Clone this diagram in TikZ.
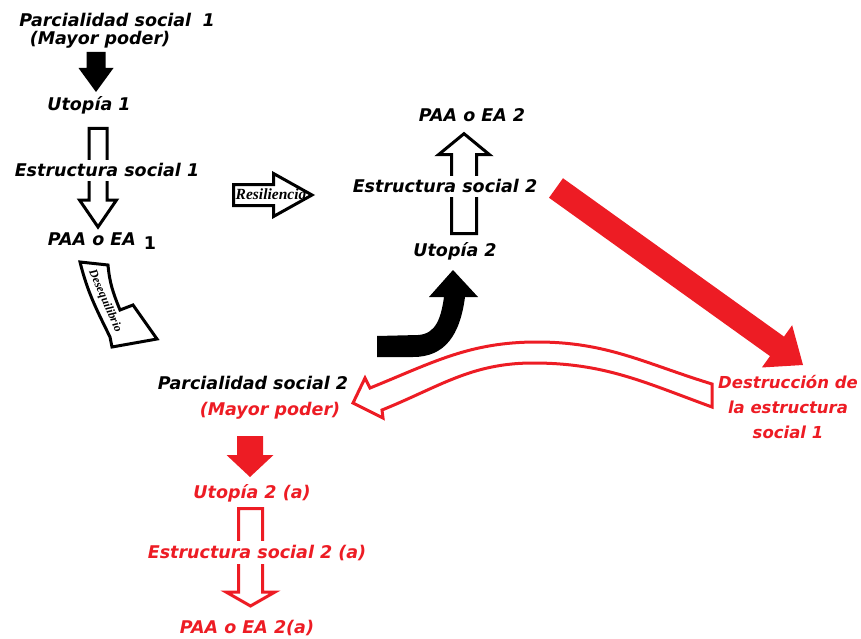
\documentclass[tikz,border=0pt]{standalone}
\usepackage{fontspec}
\setmainfont{DejaVu Sans}
\newfontfamily\serifbi{Liberation Serif}
\usepackage{tikz}
\usetikzlibrary{calc,backgrounds}
\definecolor{pintred}{RGB}{237,28,36}
\tikzstyle{lbl} = [font=\fontsize{17.5}{21}\selectfont\bfseries\itshape, inner sep=1pt, anchor=base]
\tikzstyle{lblred} = [lbl, text=pintred]
\tikzstyle{cover} = [fill=white, inner sep=4pt]
\tikzstyle{hollow} = [line width=3pt, draw=black, line join=miter]
\tikzstyle{filledarrow} = [fill=black]
% block arrow: [style]{from}{to}{shaft half width}{head half width}{head length}
\newcommand{\blockarrow}[6][]{%
  \coordinate (fa-a) at (#2);
  \coordinate (fa-b) at (#3);
  \coordinate (fa-h) at ($(fa-b)!#6!(fa-a)$);
  \path[#1] ($(fa-a)!#4!90:(fa-b)$) -- ($(fa-h)!#4!90:(fa-b)$) -- ($(fa-h)!#5!90:(fa-b)$)
    -- (fa-b) -- ($(fa-h)!#5!-90:(fa-b)$) -- ($(fa-h)!#4!-90:(fa-b)$) -- ($(fa-a)!#4!-90:(fa-b)$) -- cycle;
}

\begin{document}
\begin{tikzpicture}[x=1pt,y=-1pt]
\useasboundingbox (0,0) rectangle (861,639);

% first chain
\node[lbl] (ps1) at (117,27) {Parcialidad social\hspace{0.3em} 1};
\node[lbl] (mp1) at (100,45) {(Mayor poder)};
\node[lbl] (u1) at (89,111) {Utopía 1};
\node[lbl, cover] (es1) at (107,177) {Estructura social 1};
\node[lbl] (paa1) at (102,245) {PAA o EA\hspace{0.45em}\raisebox{-4pt}{\upshape 1}};

% second chain
\node[lbl] (paa2) at (472,122) {PAA o EA 2};
\node[lbl, cover] (es2) at (445,193) {Estructura social 2};
\node[lbl] (u2) at (455,256) {Utopía 2};

% third chain
\node[lbl] (ps2) at (253,389) {Parcialidad social 2};
\node[lblred] (mp2) at (270,415) {(Mayor poder)};
\node[lblred] (u2a) at (252,498) {Utopía 2 (a)};
\node[lblred, cover] (es2a) at (257,558) {Estructura social 2 (a)};
\node[lblred] (paa2a) at (247,633) {PAA o EA 2(a)};

\node[lblred, anchor=north, align=center, font=\fontsize{16.5}{25}\selectfont\bfseries\itshape]
  (destr) at (788,374) {Destrucción de\\la estructura\\social 1};

\begin{scope}[on background layer]
% Desequilibrio
\draw[hollow] (80,262) -- (108,265) to[out=-85,in=112] (120,310) -- (133,305) -- (157,339)
  -- (112,347) -- (110,337) to[out=116,in=-76] cycle;
% Resiliencia
\blockarrow[hollow]{$(es1.base)+(126.5,18)$}{$(es2.base)+(-133,2)$}{10.5pt}{21.5pt}{38.5pt}
% first chain
\blockarrow[filledarrow]{$(mp1.base)+(-4,7)$}{$(u1.base)+(7,-19)$}{9.5pt}{17.5pt}{24pt}
\blockarrow[hollow]{$(u1.base)+(9,17.5)$}{$(paa1.base)+(-4,-18)$}{9pt}{18.5pt}{27pt}
% second chain
\blockarrow[hollow]{$(u2.base)+(9,-22.5)$}{$(paa2.base)+(-8,11.7)$}{12.5pt}{25.5pt}{21pt}
\fill (377,336) -- (418,335) .. controls (436,334) and (441,318) .. (444,297) -- (429,297)
  -- (453,270) -- (478,297) -- (465,297) .. controls (460,335) and (445,357) .. (413,357)
  -- (377,357) -- cycle;
% destruction
\blockarrow[fill=pintred]{$(es2.base)+(111,-5)$}{$(destr.north)+(15,-9)$}{12pt}{26pt}{32pt}
\draw[hollow, draw=pintred] (712,384) to[out=163,in=0] (537,342) to[out=180,in=22] (370,388)
  -- (365,378) -- (353,403) -- (383,418) -- (382,410) to[out=22,in=180] (533,363)
  to[out=0,in=160] (712,407) -- cycle;
% third chain
\blockarrow[fill=pintred]{$(mp2.base)+(-20,21)$}{$(u2a.base)+(-2,-21)$}{13pt}{23.5pt}{22pt}
\blockarrow[hollow, draw=pintred]{$(u2a.base)+(-1.5,10.5)$}{$(paa2a.base)+(3.5,-27)$}{12pt}{24.5pt}{14pt}
\end{scope}

\node[font=\fontsize{15.5}{18}\selectfont\serifbi\bfseries\itshape, inner sep=0pt, anchor=base]
  (res) at (271,200) {Resiliencia};
\node[font=\fontsize{12}{14}\selectfont\serifbi\bfseries\itshape, inner sep=0pt, rotate=-66]
  (deseq) at (105,301) {Desequilibrio};
\end{tikzpicture}
\end{document}
